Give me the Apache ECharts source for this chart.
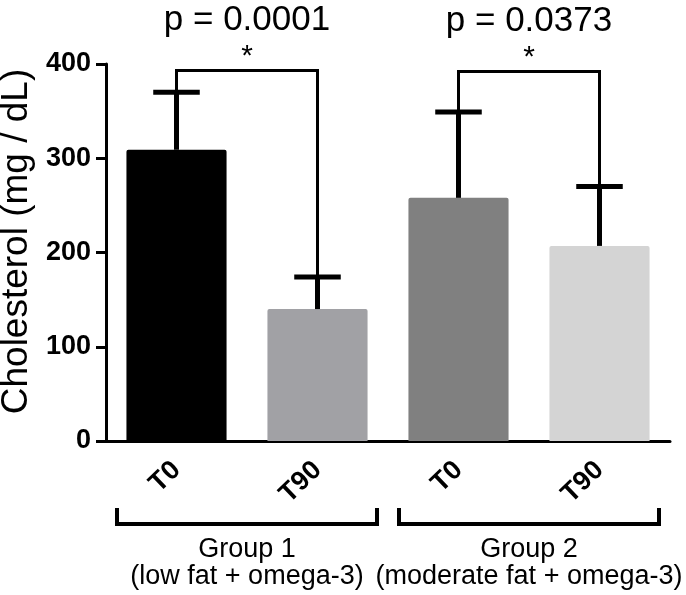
<!DOCTYPE html>
<html>
<head>
<meta charset="utf-8">
<script src="https://cdn.jsdelivr.net/npm/echarts@6/dist/echarts.min.js"></script>
<style>
  html, body { margin: 0; padding: 0; background: #fff; }
  #main { width: 686px; height: 595px; }
</style>
</head>
<body>
<div id="main"></div>
<script>
// data
const categories = ['T0', 'T90', 'T0', 'T90'];
const means = [309, 140, 258, 207];
const errorTops = [370, 174, 349, 270];
const barColors = ['#000000', '#a1a1a5', '#808080', '#d4d4d4'];
const groupNames = ['Group 1', 'Group 2'];
const groupDiets = ['(low fat + omega-3)', '(moderate fat + omega-3)'];
const groupMembers = [[0, 1], [2, 3]];
const pValues = ['p = 0.0001', 'p = 0.0373'];
const bracketTops = [393, 392];
const yTicks = [0, 100, 200, 300, 400];

const FONT = '"Liberation Sans", Arial, sans-serif';
const chart = echarts.init(document.getElementById('main'));

chart.setOption({
  animation: false,
  grid: { left: 106, right: 16, top: 64, bottom: 154, containLabel: false, outerBoundsMode: 'none' },
  xAxis: {
    type: 'category',
    data: categories,
    axisLine: { lineStyle: { color: '#000', width: 3 } },
    axisTick: { alignWithLabel: true, length: 10, lineStyle: { color: '#000', width: 3 } },
    axisLabel: {
      rotate: 44, margin: 25, color: '#000',
      fontFamily: FONT, fontWeight: 'bold', fontSize: 27
    }
  },
  yAxis: {
    type: 'value',
    min: yTicks[0],
    max: yTicks[yTicks.length - 1],
    interval: 100,
    name: 'Cholesterol (mg / dL)',
    nameLocation: 'middle',
    nameGap: 70,
    nameTextStyle: { fontFamily: FONT, fontSize: 37, color: '#000', padding: [0, 0, 0, 22] },
    axisLine: { show: true, lineStyle: { color: '#000', width: 3 } },
    axisTick: { show: true, length: 10, lineStyle: { color: '#000', width: 3 } },
    axisLabel: { margin: 15, color: '#000', fontFamily: FONT, fontWeight: 'bold', fontSize: 27 },
    splitLine: { show: false }
  },
  series: [
    {
      type: 'bar',
      barWidth: '71%',
      itemStyle: { borderRadius: [2, 2, 0, 0] },
      data: means.map((v, i) => ({ value: v, itemStyle: { color: barColors[i] } }))
    },
    {
      // upper SD whiskers
      type: 'custom',
      z: 3,
      encode: { x: 0, y: [1, 2] },
      data: means.map((m, i) => [i, m, errorTops[i]]),
      renderItem: (params, api) => {
        const base = api.coord([api.value(0), api.value(1)]);
        const top = api.coord([api.value(0), api.value(2)]);
        const cap = api.size([1, 0])[0] * 0.33;
        const st = { stroke: '#000', lineWidth: 5 };
        return {
          type: 'group',
          children: [
            { type: 'line', shape: { x1: base[0], y1: base[1], x2: top[0], y2: top[1] }, style: st },
            { type: 'line', shape: { x1: top[0] - cap / 2, y1: top[1], x2: top[0] + cap / 2, y2: top[1] }, style: st }
          ]
        };
      }
    },
    {
      // significance brackets with p values
      type: 'custom',
      z: 3,
      clip: false,
      encode: { x: [0, 1], y: [2, 3, 4] },
      data: groupMembers.map((m, g) => [m[0], m[1], errorTops[m[0]], errorTops[m[1]], bracketTops[g], g]),
      renderItem: (params, api) => {
        const a = api.value(0), b = api.value(1);
        const p1 = api.coord([a, api.value(2)]);
        const p2 = api.coord([a, api.value(4)]);
        const p3 = api.coord([b, api.value(4)]);
        const p4 = api.coord([b, api.value(3)]);
        const cx = (p2[0] + p3[0]) / 2;
        const g = api.value(5);
        return {
          type: 'group',
          children: [
            { type: 'polyline', shape: { points: [p1, p2, p3, p4] }, style: { stroke: '#000', lineWidth: 3, fill: null } },
            { type: 'text', x: cx, y: p2[1] - 14, style: { text: '*', fontFamily: FONT, fontSize: 30, fill: '#000', align: 'center', verticalAlign: 'middle' } },
            { type: 'text', x: cx, y: p2[1] - 50, style: { text: pValues[g], fontFamily: FONT, fontSize: 35, fill: '#000', align: 'center', verticalAlign: 'middle' } }
          ]
        };
      }
    },
    {
      // group brackets under the axis
      type: 'custom',
      z: 3,
      clip: false,
      encode: { x: [0, 1] },
      data: groupMembers.map((m, g) => [m[0], m[1], g]),
      renderItem: (params, api) => {
        const l = api.coord([api.value(0), 0]);
        const r = api.coord([api.value(1), 0]);
        const cx = (l[0] + r[0]) / 2;
        const half = 130;
        const y0 = l[1];
        const g = api.value(2);
        return {
          type: 'group',
          children: [
            {
              type: 'polyline',
              shape: { points: [[cx - half, y0 + 67], [cx - half, y0 + 83], [cx + half, y0 + 83], [cx + half, y0 + 67]] },
              style: { stroke: '#000', lineWidth: 4, fill: null }
            },
            { type: 'text', x: cx, y: y0 + 109, style: { text: groupNames[g], fontFamily: FONT, fontSize: 27, fill: '#000', align: 'center', verticalAlign: 'middle' } },
            { type: 'text', x: cx, y: y0 + 136, style: { text: groupDiets[g], fontFamily: FONT, fontSize: 27, fill: '#000', align: 'center', verticalAlign: 'middle' } }
          ]
        };
      }
    }
  ]
});
</script>
</body>
</html>
